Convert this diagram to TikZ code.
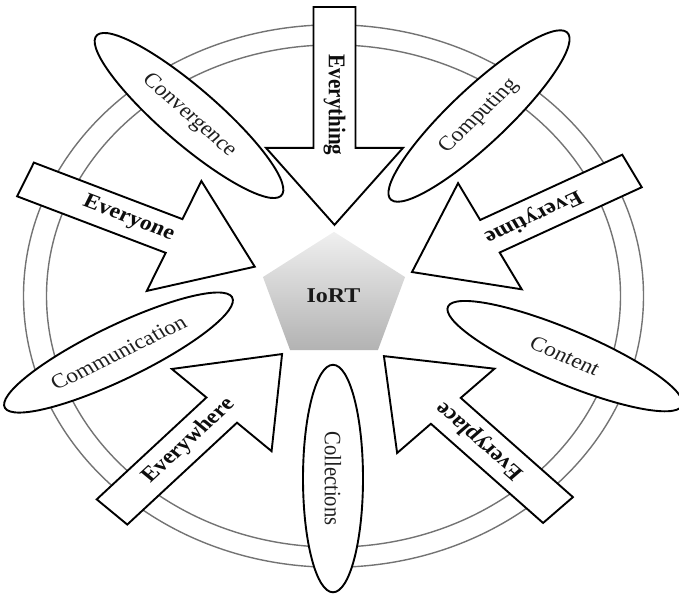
\documentclass[tikz,border=0pt]{standalone}
\usepackage{fontspec}
\setmainfont{Liberation Serif}
\usetikzlibrary{shapes.geometric}

\tikzset{
  ring/.style={draw=black!55, line width=1.4pt},
  arrowbox/.style={draw=black, fill=white, line width=1.9pt, line join=miter},
  arrowlabel/.style={font=\fontsize{24}{24}\selectfont\bfseries, text=black!95, inner sep=0pt},
  ovalbox/.style={ellipse, draw=black, fill=white, line width=1.9pt,
    minimum width=260pt, minimum height=60pt, inner sep=0pt,
    font=\fontsize{23.5}{23.5}\selectfont, text=black!88},
  corelabel/.style={font=\fontsize{24}{24}\selectfont\bfseries, text=black!90, inner sep=0pt},
}

% block arrow: #1 name, #2 tail point, #3 direction, #4 length, #5 label
\newcommand\ringarrow[5]{%
  \begin{scope}[shift={#2}, rotate=#3]
    \draw[arrowbox] (0,21) -- ({#4-88},21) -- ({#4-88},68.5) -- (#4,0)
      -- ({#4-88},-68.5) -- ({#4-88},-21) -- (0,-21) -- cycle;
    \node[arrowlabel] (#1) at ({0.45*#4},0) {#5};
  \end{scope}}

\begin{document}
\begin{tikzpicture}[x=1pt, y=1pt, yscale=0.875, every node/.append style={transform shape}]
\useasboundingbox (0,0) rectangle (679,-678.86);

% double ring
\coordinate (c) at (333.5,-338.3);
\draw[ring] (c) circle[radius=310];
\draw[ring] (c) circle[radius=287];

% the five arrows pointing at the core
\ringarrow{everything}{(334.5,-8)}{-90}{249}{Everything}
\ringarrow{everyone}{(25.5,-205.1)}{-23.5}{250}{Everyone}
\ringarrow{everytime}{(632,-195.4)}{207.7}{248.5}{Everytime}
\ringarrow{everyplace}{(558,-582.9)}{134.7}{247.5}{Everyplace}
\ringarrow{everywhere}{(112,-585.1)}{46.7}{248}{Everywhere}

% the five ovals
\node[ovalbox, rotate=-45]  (convergence)   at (189,-132)     {Convergence};
\node[ovalbox, rotate=47.5] (computing)     at (479,-132.6)   {Computing};
\node[ovalbox, rotate=29.2] (communication) at (118.5,-402.9) {Communication};
\node[ovalbox, rotate=-26]  (content)       at (565,-407)     {Content};
\node[ovalbox, rotate=-90]  (collections)   at (333,-546.9)   {Collections};

% shaded pentagon core
\begin{scope}[shift={(334,-339.7)}]
  \shade[top color=black!6, bottom color=black!30]
    (90:74.7) -- (162:74.7) -- (234:74.7) -- (306:74.7) -- (18:74.7) -- cycle;
\end{scope}
\node[corelabel] (iort) at (333.5,-338.3) {IoRT};
\end{tikzpicture}
\end{document}
